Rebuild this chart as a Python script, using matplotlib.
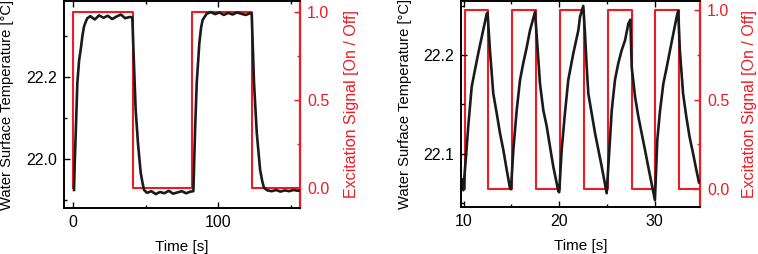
import numpy as np
import matplotlib.pyplot as plt
from matplotlib.ticker import MultipleLocator

plt.rcParams['font.family'] = ['Liberation Sans', 'DejaVu Sans']
plt.rcParams['font.size'] = 11.5

# %% Data
# left panel: slow excitation (~41 s on / 41 s off)
t_slow = [0.7, 1.2, 1.9, 3.0, 4.2, 5.3, 6.5, 7.6, 9.0, 9.9, 12, 15, 18, 21, 24, 27,
          30, 33, 36, 39, 40.9, 42.1, 43.2, 44.8, 46.7, 48, 49, 51, 54, 57, 60,
          63, 66, 69, 72, 75, 78, 81, 83, 84.1, 85.3, 87.1, 88.3, 89.4, 92.2, 95,
          98, 101, 104, 107, 110, 113, 116, 119, 122, 123.2, 124.8, 126.7, 129,
          130.5, 131.7, 134, 137, 140, 143, 146, 149, 152, 155, 156.5]
temp_slow = [21.924, 21.99, 22.063, 22.185, 22.24, 22.266, 22.30, 22.323, 22.336,
             22.343, 22.348, 22.340, 22.350, 22.344, 22.349, 22.341, 22.347,
             22.352, 22.343, 22.346, 22.345, 22.225, 22.12, 22.038, 21.965,
             21.94, 21.924, 21.917, 21.921, 21.914, 21.919, 21.916, 21.922, 21.915,
             21.918, 21.921, 21.916, 21.920, 21.921, 22.063, 22.185, 22.282,
             22.32, 22.339, 22.354, 22.358, 22.353, 22.357, 22.351, 22.356,
             22.352, 22.357, 22.354, 22.351, 22.355, 22.354, 22.185, 22.063,
             21.973, 21.945, 21.929, 21.923, 21.921, 21.924, 21.920, 21.923,
             21.921, 21.924, 21.922, 21.923]
t_exc_slow = [0, 0, 41.3, 82.0, 123.5, 157]
exc_slow = [0, 1, 0, 1, 0, 0]

# right panel: fast excitation (~2.5 s on / 2.5 s off)
t_fast = [9.79, 9.96, 10.24, 10.48, 10.84, 11.18, 11.53, 11.88, 12.41, 12.5,
          12.75, 13.1, 13.46, 13.8, 14.15, 14.5, 14.85, 14.95,
          15.2, 15.55, 15.9, 16.24, 16.6, 16.94, 17.47,
          17.7, 17.99, 18.34, 18.69, 19.04, 19.38, 19.91, 20.0,
          20.26, 20.6, 20.95, 21.48, 22.0, 22.18, 22.52,
          22.7, 22.88, 23.05, 23.4, 23.75, 24.1, 24.45, 24.97,
          25.25, 25.5, 25.84, 26.19, 26.54, 26.89, 27.24, 27.45,
          27.59, 27.94, 28.28, 28.63, 28.98, 29.32, 29.67, 30.02,
          30.27, 30.56, 30.9, 31.26, 31.6, 31.95, 32.3, 32.46,
          32.63, 32.97, 33.3, 33.65, 34.0, 34.35, 34.63]
temp_fast = [22.074, 22.063, 22.097, 22.128, 22.168, 22.185, 22.202, 22.218, 22.242, 22.243,
             22.205, 22.161, 22.141, 22.121, 22.104, 22.084, 22.065, 22.064,
             22.104, 22.144, 22.175, 22.192, 22.208, 22.225, 22.244,
             22.212, 22.171, 22.144, 22.128, 22.107, 22.087, 22.062, 22.061,
             22.104, 22.141, 22.175, 22.202, 22.225, 22.239, 22.250,
             22.222, 22.188, 22.161, 22.141, 22.121, 22.104, 22.087, 22.060,
             22.104, 22.144, 22.175, 22.192, 22.205, 22.215, 22.232, 22.236,
             22.188, 22.158, 22.138, 22.121, 22.104, 22.087, 22.070, 22.053,
             22.114, 22.144, 22.171, 22.188, 22.205, 22.222, 22.239, 22.245,
             22.205, 22.161, 22.138, 22.117, 22.101, 22.084, 22.071]
t_exc_fast = [9.7, 10.12, 12.57, 15.07, 17.57, 20.07, 22.57, 25.07, 27.57, 30.07, 32.55, 35]
exc_fast = [0, 1, 0, 1, 0, 1, 0, 1, 0, 1, 0, 0]

RED = '#ed1c24'


def panel(rect, t, temp, t_exc, exc, xlim, ylim, ylim2, xmaj, xmin, ymaj, ymin, lab_l, lab_r):
    ax = fig.add_axes(rect)
    ax2 = ax.twinx()
    ax.set_zorder(ax2.get_zorder() + 1)
    ax.patch.set_visible(False)

    ax2.plot(t_exc, exc, drawstyle='steps-post', color=RED, lw=1.5)
    ax.plot(t, temp, color='#1a1a1a', lw=1.9)

    ax.set_xlim(xlim)
    ax.set_ylim(ylim)
    ax2.set_ylim(ylim2)

    ax.xaxis.set_major_locator(MultipleLocator(xmaj))
    ax.xaxis.set_minor_locator(MultipleLocator(xmin))
    ax.yaxis.set_major_locator(MultipleLocator(ymaj))
    ax.yaxis.set_minor_locator(MultipleLocator(ymin))
    ax2.yaxis.set_major_locator(MultipleLocator(0.5))
    ax2.yaxis.set_minor_locator(MultipleLocator(0.25))
    ax2.yaxis.set_major_formatter(plt.FormatStrFormatter('%.1f'))

    ax.tick_params(which='both', direction='in', top=True, right=False, width=1, pad=5)
    ax.tick_params(which='major', length=4)
    ax.tick_params(which='minor', length=2.5)
    ax2.tick_params(which='both', direction='in', colors=RED, width=1, pad=5)
    ax2.tick_params(which='major', length=4)
    ax2.tick_params(which='minor', length=2.5)

    for s in ax.spines.values():
        s.set_linewidth(1.2)
    for s in ax2.spines.values():
        s.set_linewidth(1.2)
    ax.spines['right'].set_visible(False)
    ax2.spines['right'].set_color(RED)
    ax2.spines['right'].set_linewidth(1.6)

    ax.set_xlabel('Time [s]', fontsize=11, labelpad=7)
    ax.set_ylabel('Water Surface Temperature [°C]', fontsize=10.6)
    ax.yaxis.set_label_coords(lab_l, 0.5)
    ax2.set_ylabel('Excitation Signal [On / Off]', color=RED)
    ax2.yaxis.set_label_coords(lab_r, 0.5)
    return ax, ax2


fig = plt.figure(figsize=(7.58, 2.54), dpi=100)

panel([64 / 758, 1 - 208 / 254, 236 / 758, 207 / 254], t_slow, temp_slow, t_exc_slow, exc_slow,
      (-6.2, 156.5), (21.880, 22.385), (-0.114, 1.064), 100, 50, 0.2, 0.1,
      (14 - 64) / 236, (344 - 64) / 236)
panel([461 / 758, 1 - 207 / 254, 239 / 758, 206 / 254], t_fast, temp_fast, t_exc_fast, exc_fast,
      (9.72, 34.74), (22.046, 22.255), (-0.10, 1.05), 10, 5, 0.1, 0.05,
      (412 - 461) / 239, (742 - 461) / 239)

fig.savefig('out.png', dpi=100)
